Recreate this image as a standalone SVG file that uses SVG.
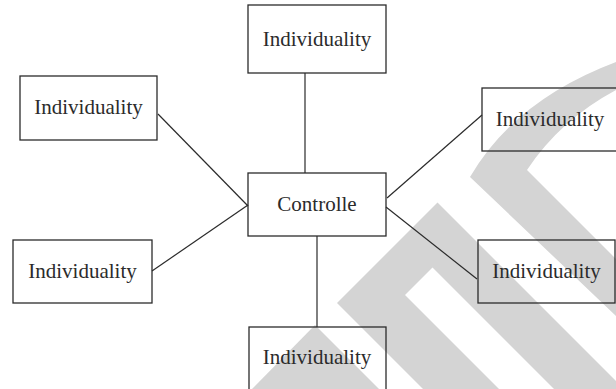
<svg xmlns="http://www.w3.org/2000/svg" width="616" height="389" viewBox="0 0 616 389">
<style>
.box{fill:none;stroke:#2b2b2b;stroke-width:1.3}
.lbl{font-family:"Liberation Serif","DejaVu Serif",serif;font-size:21px;fill:#2b2b2b;text-anchor:middle}
.con{stroke:#2b2b2b;stroke-width:1.2;fill:none}
.wm{fill:#d4d4d4}
</style>
<rect width="616" height="389" fill="#fff"/>
<g id="watermark">
<path class="wm" d="M470,177 Q515,100 616,62 L616,90 Q560,120 527,170 L616,259 L616,316 Z"/>
<path class="wm" d="M337,303 L437.5,202.5 L616,381 L616,389 L554,389 L432.5,267.5 L405,295 L499,389 L423,389 Z"/>
<path class="wm" d="M252,389 L315,325 L379,389 Z"/>
</g>
<g id="connectors">
<line class="con" x1="305" y1="73" x2="305" y2="173"/>
<line class="con" x1="158" y1="114" x2="248" y2="206"/>
<line class="con" x1="152" y1="271" x2="248" y2="205"/>
<line class="con" x1="387" y1="198" x2="482" y2="115"/>
<line class="con" x1="386" y1="207" x2="477" y2="279"/>
<line class="con" x1="317" y1="236" x2="317" y2="327"/>
</g>
<g id="n-top"><rect class="box" x="248" y="5" width="138" height="68"/><text class="lbl" x="317" y="46">Individuality</text></g>
<g id="n-topleft"><rect class="box" x="20" y="76" width="137" height="64"/><text class="lbl" x="88.5" y="114">Individuality</text></g>
<g id="n-center"><rect class="box" x="248" y="173" width="138" height="63"/><text class="lbl" x="317" y="211">Controlle</text></g>
<g id="n-bottomleft"><rect class="box" x="13" y="240" width="139" height="63"/><text class="lbl" x="82.5" y="278">Individuality</text></g>
<g id="n-topright"><rect class="box" x="482" y="88" width="136" height="63"/><text class="lbl" x="550" y="126">Individuality</text></g>
<g id="n-bottomright"><rect class="box" x="478" y="240" width="137" height="63"/><text class="lbl" x="546.5" y="278">Individuality</text></g>
<g id="n-bottom"><rect class="box" x="249" y="327" width="137" height="70"/><text class="lbl" x="317" y="364">Individuality</text></g>
</svg>
